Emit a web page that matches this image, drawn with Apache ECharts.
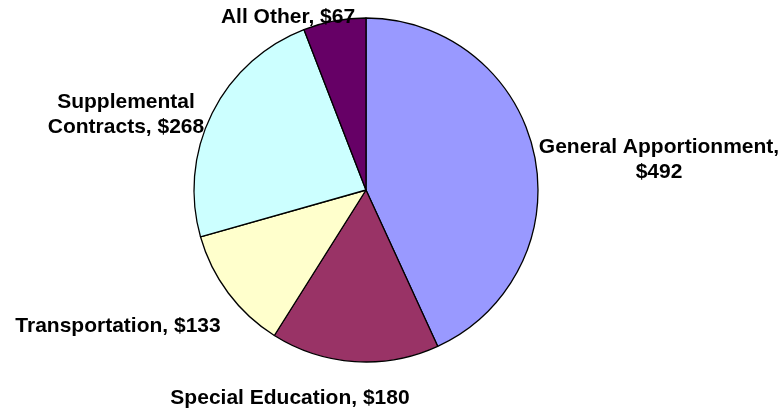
<!DOCTYPE html>
<html>
<head>
<meta charset="utf-8">
<script src="https://cdn.jsdelivr.net/npm/echarts@6/dist/echarts.min.js"></script>
<style>
  html, body { margin: 0; padding: 0; background: #fff; }
  #chart { width: 783px; height: 410px; }
</style>
</head>
<body>
<div id="chart"></div>
<script>
// slice names and values (clockwise from 12 o'clock)
const names = ["General Apportionment", "Special Education", "Transportation", "Supplemental Contracts", "All Other"];
const values = [492, 180, 133, 268, 67];
const colors = ["#9999ff", "#993366", "#ffffcc", "#ccffff", "#660066"];
// label text as it appears (line breaks where the chart wraps)
const labelText = ["General Apportionment,\n$492", "Special Education, $180", "Transportation, $133", "Supplemental\nContracts, $268", "All Other, $67"];
// label anchor spots
const labelPos = [[659, 160], [290, 398], [118, 326], [126, 115], [288, 17]];

const chart = echarts.init(document.getElementById("chart"));
chart.setOption({
  animation: false,
  series: [{
    type: "pie",
    center: [366, 190],
    radius: 172,
    startAngle: 90,
    clockwise: true,
    data: names.map((n, i) => ({
      name: n,
      value: values[i],
      itemStyle: { color: colors[i] }
    })),
    itemStyle: { borderColor: "#000", borderWidth: 1.3 },
    label: {
      show: true,
      position: "outside",
      formatter: (p) => labelText[p.dataIndex],
      color: "#000",
      fontFamily: "'Liberation Sans', Arial, sans-serif",
      fontWeight: "bold",
      fontSize: 21,
      lineHeight: 25,
      align: "center",
      overflow: "none"
    },
    labelLine: { show: false },
    labelLayout: (p) => ({
      x: labelPos[p.dataIndex][0],
      y: labelPos[p.dataIndex][1],
      align: "center",
      verticalAlign: "middle"
    }),
    emphasis: { disabled: true }
  }]
});
</script>
</body>
</html>
